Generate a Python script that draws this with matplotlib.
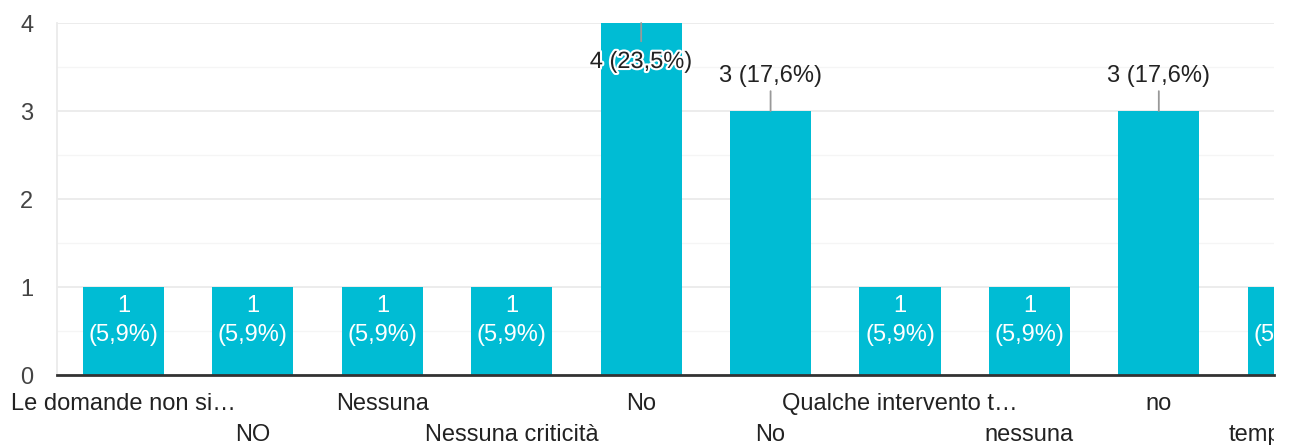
import matplotlib
matplotlib.use("Agg")
import matplotlib.pyplot as plt
from matplotlib import patheffects
from matplotlib.transforms import Bbox, TransformedBbox
from matplotlib.ticker import MultipleLocator

# Risposte (etichette come appaiono nel grafico, troncate)
categorie = ["Le domande non si…", "NO", "Nessuna", "Nessuna criticità", "No",
             "No", "Qualche intervento t…", "nessuna", "no", "tempistiche"]
conteggi = [1, 1, 1, 1, 4, 3, 1, 1, 3, 1]
percentuali = ["5,9%", "5,9%", "5,9%", "5,9%", "23,5%",
               "17,6%", "5,9%", "5,9%", "17,6%", "5,9%"]

plt.rcParams['font.family'] = ['Liberation Sans', 'DejaVu Sans']

W, H = 1293, 445
fig = plt.figure(figsize=(W / 100, H / 100), dpi=100)
ax = fig.add_axes([57 / W, (H - 375) / H, (1274 - 57) / W, (375 - 23) / H])

colore = '#00bcd4'
fs = 17
x = list(range(len(conteggi)))
ax.bar(x, conteggi, width=0.626, color=colore, zorder=2)

ax.set_xlim(-0.514, 8.89)
ax.set_ylim(0, 4)
ax.yaxis.set_major_locator(MultipleLocator(1))
ax.yaxis.set_minor_locator(MultipleLocator(0.5))
ax.grid(True, which='major', axis='y', color='#ebebeb', lw=1.3, zorder=0)
ax.grid(True, which='minor', axis='y', color='#f5f5f5', lw=1.0, zorder=0)
ax.tick_params(axis='y', which='both', length=0, pad=17, labelsize=fs,
               labelcolor='#444444')
ax.set_xticks([])
for s in ['top', 'right']:
    ax.spines[s].set_visible(False)
ax.spines['left'].set_color('#ebebeb')
ax.spines['left'].set_linewidth(1.3)
ax.spines['bottom'].set_color('#333333')
ax.spines['bottom'].set_linewidth(2)
ax.spines['bottom'].set_zorder(3)

ymax = ax.get_ylim()[1]
for i, (v, p) in enumerate(zip(conteggi, percentuali)):
    if v < 2:
        t = ax.annotate(f"{v}\n({p})", xy=(i, v), xytext=(0, -8),
                        textcoords='offset pixels', ha='center', va='top',
                        fontsize=fs, color='white', linespacing=1.4,
                        zorder=4, annotation_clip=False)
        t.set_clip_on(True)
        t.set_clip_box(ax.bbox)
    elif v + 0.5 > ymax:
        ax.annotate(f"{v} ({p})", xy=(i, v), xytext=(0, -28),
                    textcoords='offset pixels', ha='center', va='top',
                    fontsize=fs, color='#222222', zorder=5,
                    path_effects=[patheffects.withStroke(linewidth=3, foreground='white')],
                    arrowprops=dict(arrowstyle='-', color='#999999', lw=1.3,
                                    shrinkA=5, shrinkB=0))
    else:
        ax.annotate(f"{v} ({p})", xy=(i, v), xytext=(0, 24),
                    textcoords='offset pixels', ha='center', va='bottom',
                    fontsize=fs, color='#222222', zorder=5,
                    arrowprops=dict(arrowstyle='-', color='#999999', lw=1.3,
                                    shrinkA=1, shrinkB=0))

# etichette delle categorie su due righe alternate, tagliate al bordo destro
clip = TransformedBbox(Bbox([[-1, -1], [1, 1]]), ax.transAxes)
for i, c in enumerate(categorie):
    riga = -29 / 352 if i % 2 == 0 else -60 / 352
    t = ax.text(i, riga, c, transform=ax.get_xaxis_transform(), ha='center',
                va='center', fontsize=fs, color='#222222')
    t.set_clip_path(None)
    t.set_clip_box(clip)
    t.set_clip_on(True)

fig.savefig('out.png', dpi=100)
